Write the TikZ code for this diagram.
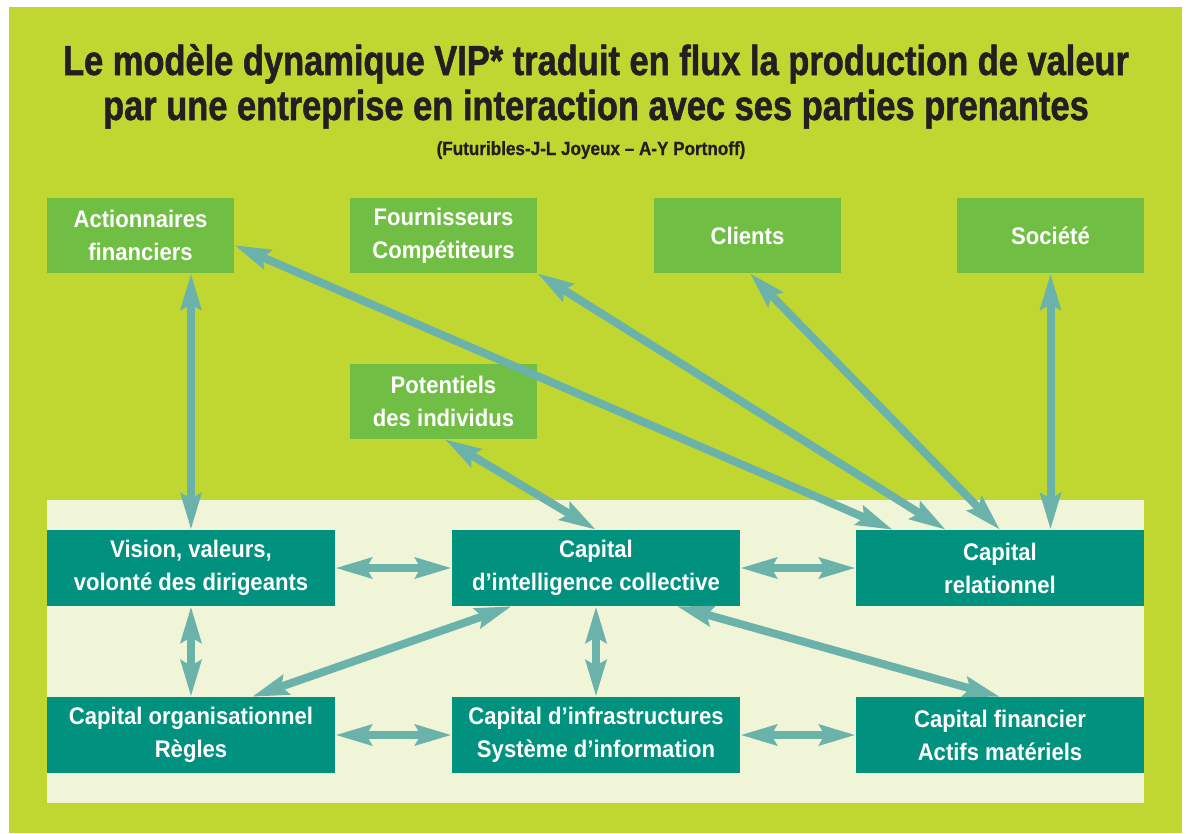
\documentclass[tikz,border=0pt]{standalone}
\usepackage{fontspec}
\setmainfont{Liberation Sans}[FakeStretch=0.92]
\newfontfamily\titlefont{Liberation Sans}[FakeStretch=0.82, FakeBold=1.2]
\newfontfamily\notefont{Liberation Sans}[FakeStretch=0.9, FakeBold=0.8]
\usetikzlibrary{arrows.meta}

\definecolor{bggreen}{HTML}{BFD730}
\definecolor{leafgreen}{HTML}{70BF44}
\definecolor{capteal}{HTML}{00917F}
\definecolor{panel}{HTML}{F0F5D8}
\definecolor{flow}{HTML}{6BB2AB}
\definecolor{ink}{HTML}{231F20}

\tikzset{
  x=1pt, y=-1pt,
  boxtext/.style={text=white, font=\bfseries\fontsize{24}{33}\selectfont,
    align=center, inner sep=0pt},
  partner/.style={boxtext, fill=leafgreen, minimum width=187pt, minimum height=75pt},
  capital/.style={boxtext, fill=capteal, minimum width=288pt, minimum height=76pt},
  flowarrow/.style={draw=flow, line width=8pt,
    {Stealth[length=36pt, width=20pt, inset=5pt]}-{Stealth[length=36pt, width=20pt, inset=5pt]}},
}

\begin{document}
\begin{tikzpicture}
  \useasboundingbox (0,0) rectangle (1186,833);
  \fill[bggreen] (9,7) rectangle (1182,833);
  \fill[panel] (47,500) rectangle (1144,803);

  % title block
  \node[text=ink, font=\titlefont\bfseries\fontsize{42}{45}\selectfont, anchor=base]
    (t1) at (596,75) {Le modèle dynamique VIP* traduit en flux la production de valeur};
  \node[text=ink, font=\titlefont\bfseries\fontsize{42}{45}\selectfont, anchor=base]
    (t2) at (596,120) {par une entreprise en interaction avec ses parties prenantes};
  \node[text=ink, font=\notefont\bfseries\fontsize{19}{20}\selectfont, anchor=base]
    (t3) at (591,155) {(Futuribles-J-L Joyeux – A-Y Portnoff)};

  % stakeholders
  \node[partner] (act) at (140.5,235.5) {Actionnaires\\financiers};
  \node[partner] (four) at (443.5,235.5) {Fournisseurs\\Compétiteurs};
  \node[partner] (cli) at (747.5,235.5) {Clients};
  \node[partner] (soc) at (1050.5,235.5) {Société};
  \node[partner] (pot) at (443.5,401.5) {Potentiels\\des individus};

  % capitals
  \node[capital] (vis) at (191,568) {Vision, valeurs,\\volonté des dirigeants};
  \node[capital] (intel) at (596,568) {Capital\\d’intelligence collective};
  \node[capital] (rel) at (1000,568) {Capital\\relationnel};
  \node[capital] (org) at (191,735) {Capital organisationnel\\Règles};
  \node[capital] (infra) at (596,735) {Capital d’infrastructures\\Système d’information};
  \node[capital] (fin) at (1000,735) {Capital financier\\Actifs matériels};

  % flows
  \draw[flowarrow] (vis.north |- act.south) -- (vis.north);
  \draw[flowarrow] ([yshift=-9.5pt]act.east) -- ([xshift=37pt]rel.north west);
  \draw[flowarrow] (four.south east) -- ([xshift=90pt]rel.north west);
  \draw[flowarrow] ([xshift=96pt]cli.south west) -- (rel.north);
  \draw[flowarrow] (soc.south) -- (soc.south |- rel.north);
  \draw[flowarrow] ([xshift=95pt]pot.south west) -- (intel.north);
  \draw[flowarrow] (vis.east) -- (intel.west);
  \draw[flowarrow] (intel.east) -- (rel.west);
  \draw[flowarrow] (vis.south) -- (org.north);
  \draw[flowarrow] ([xshift=205pt]org.north west) -- ([xshift=60pt]intel.south west);
  \draw[flowarrow] (intel.south) -- (infra.north);
  \draw[flowarrow] ([xshift=225pt]intel.south west) -- (fin.north);
  \draw[flowarrow] (org.east) -- (infra.west);
  \draw[flowarrow] (infra.east) -- (fin.west);
\end{tikzpicture}
\end{document}
